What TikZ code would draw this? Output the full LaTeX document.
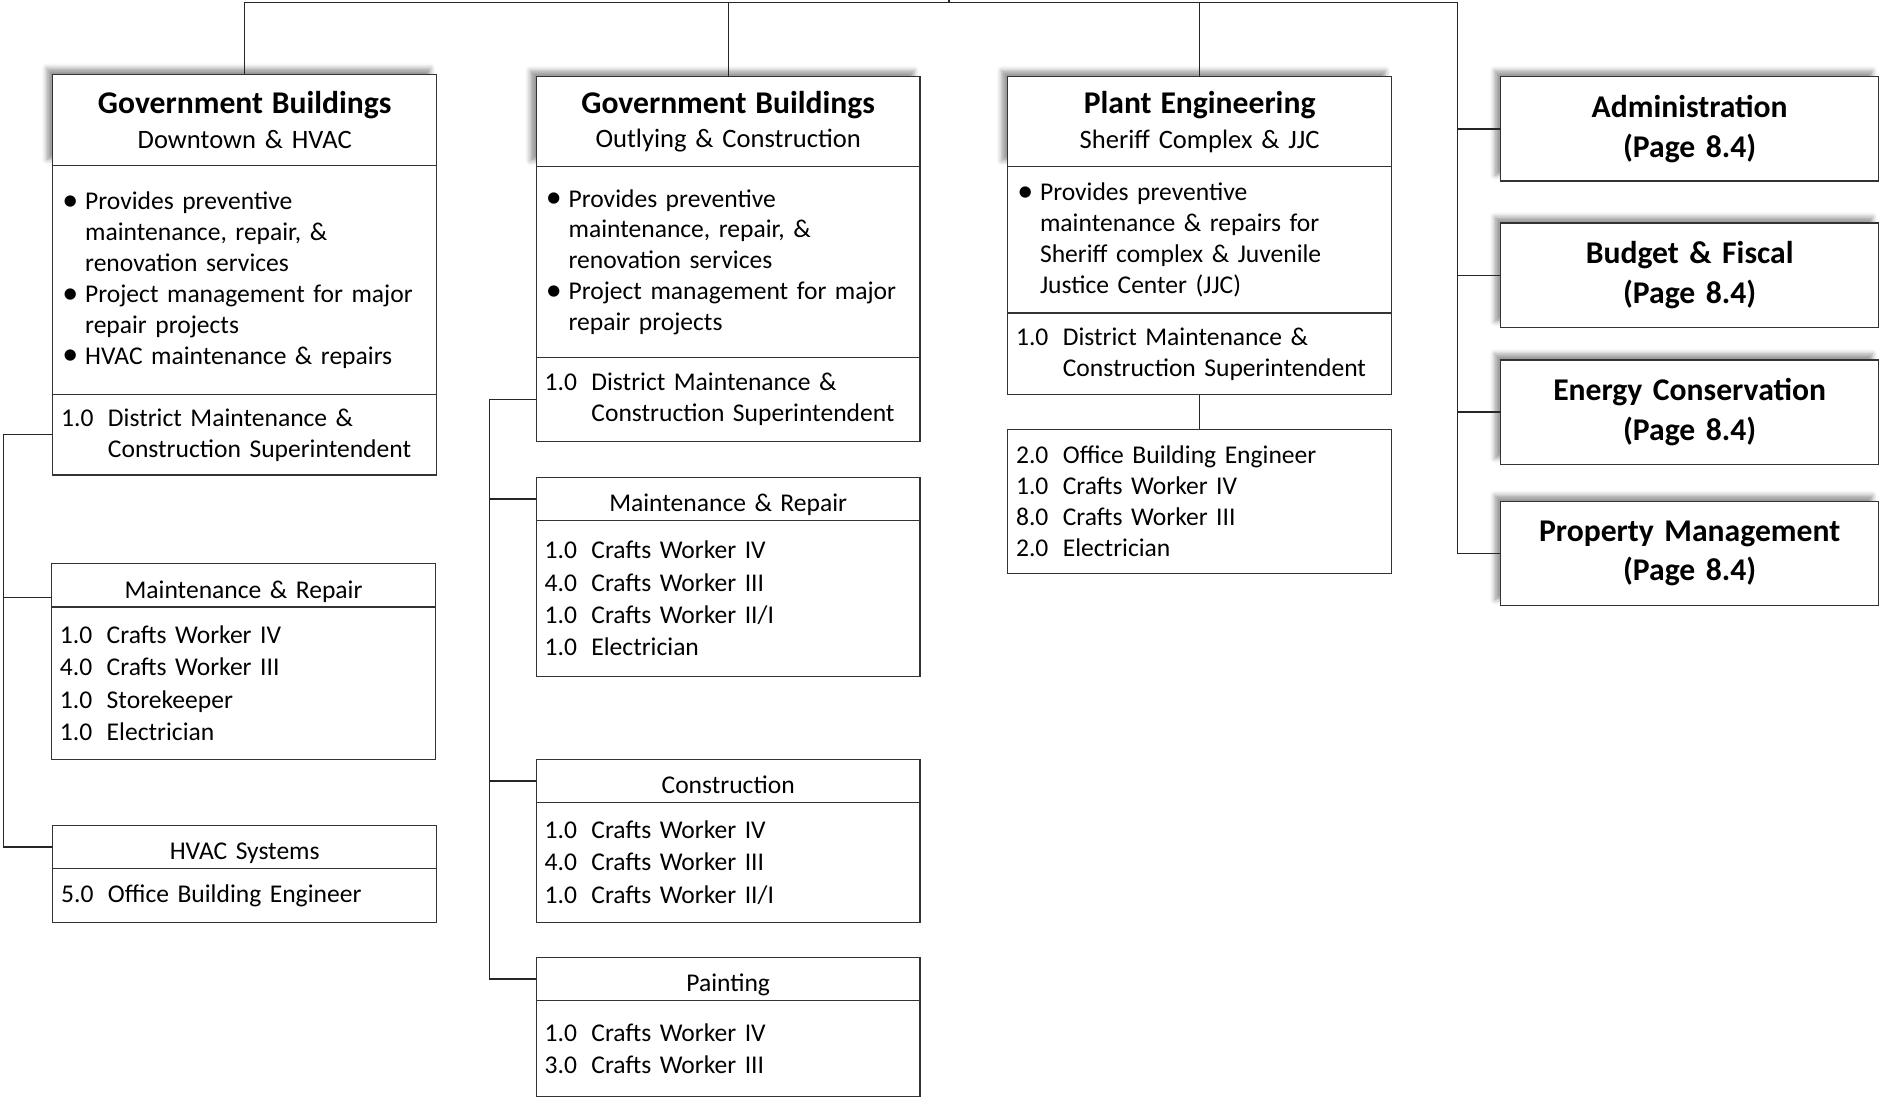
\documentclass[tikz,border=0pt]{standalone}
\usepackage{fontspec}
\setmainfont{Carlito}
\usetikzlibrary{positioning,shadows.blur}
\newdimen\unitpx \unitpx=0.016667cm
\newcommand\bul{\makebox[20\unitpx][l]{\hspace{1\unitpx}\raisebox{-0.3pt}{\scalebox{1.25}{\textbullet}}}}
\newcommand\bcont{\hspace*{20\unitpx}}
\newcommand\fte[1]{\makebox[39\unitpx][l]{#1}}
\newcommand\ftecont{\hspace*{39\unitpx}}
\newcommand\ttl[2]{{\bfseries\fontsize{12.5}{13.7}\selectfont #1}\\
  \fontsize{10.5}{13.7}\selectfont #2}

\begin{document}
\begin{tikzpicture}[x=0.016667cm, y=-0.016667cm,
  box/.style={draw=black!80, line width=0.5pt, fill=white, outer sep=0pt,
    minimum width=320\unitpx, text width=306\unitpx, inner xsep=7\unitpx,
    inner ysep=0pt, align=left, font=\fontsize{10.1}{12.2}\selectfont},
  listbox/.style={box, font=\fontsize{10.1}{12.8}\selectfont},
  titlebox/.style={box, align=center, font=\fontsize{10.5}{13.7}\selectfont,
    blur shadow={shadow xshift=-0.5ex, shadow yshift=0.5ex}},
  subhead/.style={box, align=center, minimum height=36\unitpx,
    text height=10pt, text depth=0pt},
  sidebox/.style={titlebox, minimum width=315\unitpx, text width=301\unitpx,
    minimum height=87\unitpx,
    font=\bfseries\fontsize{12.5}{15.6}\selectfont},
  link/.style={draw=black!85, line width=0.5pt}]
  \useasboundingbox (0,0) rectangle (1568,916);

  % Government Buildings, downtown
  \node[titlebox, minimum height=76\unitpx, anchor=north west] (gb1) at (44,62)
    {\ttl{Government Buildings}{Downtown \& HVAC}};
  \node[box, minimum height=191\unitpx, below=0pt of gb1] (gb1dsc)
    {\bul Provides preventive\\
     \bcont maintenance, repair, \&\\
     \bcont renovation services\\
     \bul Project management for major\\
     \bcont repair projects\\
     \bul HVAC maintenance \& repairs};
  \node[box, minimum height=67\unitpx, below=0pt of gb1dsc] (gb1sup)
    {\fte{1.0}District Maintenance \&\\ \ftecont Construction Superintendent};
  \node[subhead, anchor=north west] (mr1) at (43,470) {Maintenance \& Repair};
  \node[listbox, minimum height=127\unitpx, below=0pt of mr1] (mr1l)
    {\fte{1.0}Crafts Worker IV\\ \fte{4.0}Crafts Worker III\\
     \fte{1.0}Storekeeper\\ \fte{1.0}Electrician};
  \node[subhead, anchor=north west] (hv) at (44,688) {HVAC Systems};
  \node[listbox, minimum height=45\unitpx, below=0pt of hv] (hvl)
    {\fte{5.0}Office Building Engineer};

  % Government Buildings, outlying
  \node[titlebox, minimum height=75\unitpx, anchor=north west] (gb2) at (447,64)
    {\ttl{Government Buildings}{Outlying \& Construction}};
  \node[box, minimum height=159\unitpx, below=0pt of gb2] (gb2dsc)
    {\bul Provides preventive\\
     \bcont maintenance, repair, \&\\
     \bcont renovation services\\
     \bul Project management for major\\
     \bcont repair projects};
  \node[box, minimum height=70\unitpx, below=0pt of gb2dsc] (gb2sup)
    {\fte{1.0}District Maintenance \&\\ \ftecont Construction Superintendent};
  \node[subhead, anchor=north west] (mr2) at (447,398) {Maintenance \& Repair};
  \node[listbox, minimum height=130\unitpx, below=0pt of mr2] (mr2l)
    {\fte{1.0}Crafts Worker IV\\ \fte{4.0}Crafts Worker III\\
     \fte{1.0}Crafts Worker II/I\\ \fte{1.0}Electrician};
  \node[subhead, anchor=north west] (cn) at (447,633) {Construction};
  \node[listbox, minimum height=100\unitpx, below=0pt of cn] (cnl)
    {\fte{1.0}Crafts Worker IV\\ \fte{4.0}Crafts Worker III\\
     \fte{1.0}Crafts Worker II/I};
  \node[subhead, anchor=north west] (pt) at (447,798) {Painting};
  \node[listbox, minimum height=80\unitpx, below=0pt of pt] (ptl)
    {\fte{1.0}Crafts Worker IV\\ \fte{3.0}Crafts Worker III};

  % Plant Engineering
  \node[titlebox, minimum height=75\unitpx, anchor=north west] (pe) at (840,64)
    {\ttl{Plant Engineering}{Sheriff Complex \& JJC}};
  \node[box, minimum height=122\unitpx, below=0pt of pe] (pedsc)
    {\bul Provides preventive\\
     \bcont maintenance \& repairs for\\
     \bcont Sheriff complex \& Juvenile\\
     \bcont Justice Center (JJC)};
  \node[box, minimum height=68\unitpx, below=0pt of pedsc] (pesup)
    {\fte{1.0}District Maintenance \&\\ \ftecont Construction Superintendent};
  \node[box, minimum height=120\unitpx, anchor=north west] (pel) at (840,358)
    {\fte{2.0}Office Building Engineer\\ \fte{1.0}Crafts Worker IV\\
     \fte{8.0}Crafts Worker III\\ \fte{2.0}Electrician};

  % other divisions
  \node[sidebox, anchor=north west] (adm) at (1251,64) {Administration\\(Page 8.4)};
  \node[sidebox, anchor=north west] (bud) at (1251,186) {Budget \& Fiscal\\(Page 8.4)};
  \node[sidebox, anchor=north west] (enc) at (1251,300) {Energy Conservation\\(Page 8.4)};
  \node[sidebox, anchor=north west] (prm) at (1251,418) {Property Management\\(Page 8.4)};

  % connectors
  \coordinate (root) at (791,0);
  \coordinate (spine4) at (1215,2);
  \coordinate (spine1) at (3,0);
  \coordinate (spine2) at (408,0);
  \draw[link] (gb1.north) |- (spine4) |- (prm.west);
  \draw[link] (root) -- (root |- spine4);
  \draw[link] (gb2.north) -- (gb2.north |- spine4);
  \draw[link] (pe.north) -- (pe.north |- spine4);
  \foreach \n in {adm,bud,enc}
    \draw[link] (\n.west) -- (\n.west -| spine4);

  \coordinate (mr1in) at ([yshift=8\unitpx]mr1.south west);
  \draw[link] (gb1sup.west) -| (spine1 |- hv.west) -- (hv.west);
  \draw[link] (mr1in) -- (mr1in -| spine1);

  \draw[link] (gb2sup.west) -| (spine2 |- pt.west) -- (pt.west);
  \foreach \n in {mr2,cn}
    \draw[link] (\n.west) -- (\n.west -| spine2);

  \draw[link] (pesup.south) -- (pel.north);
\end{tikzpicture}
\end{document}
